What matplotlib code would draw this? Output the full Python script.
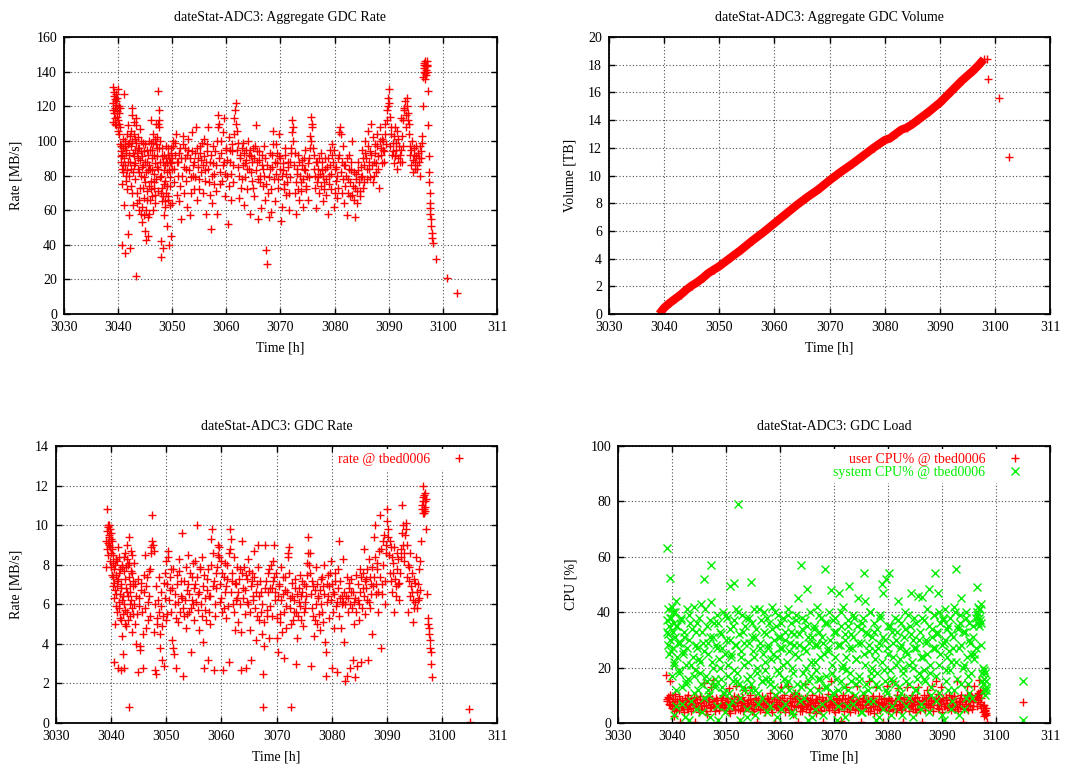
import matplotlib
matplotlib.use("Agg")
import matplotlib.pyplot as plt

plt.rcParams["font.family"] = ["Liberation Serif", "DejaVu Serif"]
plt.rcParams["font.size"] = 10

# shared x axis
x_ticks = [3030, 3040, 3050, 3060, 3070, 3080, 3090, 3100, 3110]
x_ticklabels = ["3030", "3040", "3050", "3060", "3070", "3080", "3090", "3100", "311"]

# --- aggregate GDC rate [MB/s] ---
agg_t = [
    3039.0, 3039.1, 3039.15, 3039.2, 3039.3, 3039.35, 3039.4, 3039.5, 3039.55, 3039.6,
    3039.7, 3039.75, 3039.8, 3039.9, 3040.0, 3040.05, 3040.1, 3040.2, 3040.3, 3040.4,
    3040.45, 3040.5, 3040.6, 3040.65, 3040.7, 3040.8, 3040.9, 3041.0, 3041.05, 3041.1,
    3041.2, 3041.3, 3041.4, 3041.5, 3041.6, 3041.7, 3041.8, 3041.9, 3042.0, 3042.1,
    3042.2, 3042.3, 3042.4, 3042.5, 3042.6, 3042.7, 3042.8, 3042.9, 3043.0, 3043.1,
    3043.2, 3043.3, 3043.4, 3043.5, 3043.6, 3043.7, 3043.8, 3043.9, 3044.0, 3044.1,
    3044.2, 3044.3, 3044.4, 3044.5, 3044.6, 3044.7, 3044.8, 3044.9, 3045.0, 3045.1,
    3045.2, 3045.3, 3045.4, 3045.5, 3045.6, 3045.7, 3045.8, 3045.9, 3046.0, 3046.1,
    3046.2, 3046.3, 3046.4, 3046.5, 3046.6, 3046.7, 3046.8, 3046.9, 3047.0, 3047.1,
    3047.2, 3047.3, 3047.4, 3047.5, 3047.6, 3047.7, 3047.8, 3047.9, 3048.0, 3048.1,
    3048.2, 3048.3, 3048.4, 3048.5, 3048.6, 3048.7, 3048.8, 3048.9, 3049.0, 3049.1,
    3049.2, 3049.3, 3049.4, 3049.5, 3049.6, 3049.7, 3049.8, 3049.9, 3050.0, 3050.1,
    3050.3, 3050.5, 3050.7, 3050.9, 3051.1, 3051.3, 3051.5, 3051.6, 3051.8, 3052.0,
    3052.2, 3052.4, 3052.6, 3052.8, 3053.0, 3053.2, 3053.4, 3053.6, 3053.8, 3054.0,
    3054.2, 3054.4, 3054.6, 3054.8, 3055.0, 3055.2, 3055.4, 3055.6, 3055.8, 3056.0,
    3056.2, 3056.4, 3056.6, 3056.8, 3057.0, 3057.2, 3057.4, 3057.6, 3057.8, 3058.0,
    3058.2, 3058.4, 3058.5, 3058.7, 3058.9, 3059.1, 3059.3, 3059.5, 3059.7, 3059.9,
    3060.1, 3060.3, 3060.5, 3060.7, 3060.9, 3061.1, 3061.3, 3061.5, 3061.6, 3061.8,
    3062.0, 3062.2, 3062.4, 3062.6, 3062.8, 3063.0, 3063.2, 3063.4, 3063.6, 3063.8,
    3064.0, 3064.2, 3064.4, 3064.6, 3064.8, 3065.0, 3065.2, 3065.4, 3065.6, 3065.8,
    3066.0, 3066.2, 3066.4, 3066.6, 3066.8, 3067.0, 3067.2, 3067.4, 3067.6, 3067.8,
    3068.0, 3068.2, 3068.4, 3068.6, 3068.8, 3069.0, 3069.2, 3069.4, 3069.6, 3069.8,
    3070.0, 3070.1, 3070.3, 3070.5, 3070.7, 3070.9, 3071.1, 3071.3, 3071.5, 3071.7,
    3071.9, 3072.1, 3072.2, 3072.3, 3072.5, 3072.7, 3072.9, 3073.1, 3073.3, 3073.5,
    3073.7, 3073.9, 3074.1, 3074.3, 3074.5, 3074.7, 3074.9, 3075.1, 3075.3, 3075.5,
    3075.7, 3075.8, 3076.0, 3076.2, 3076.4, 3076.6, 3076.8, 3077.0, 3077.2, 3077.4,
    3077.6, 3077.8, 3078.0, 3078.2, 3078.4, 3078.6, 3078.8, 3079.0, 3079.2, 3079.4,
    3079.6, 3079.8, 3080.0, 3080.2, 3080.4, 3080.6, 3080.8, 3081.0, 3081.2, 3081.4,
    3081.6, 3081.8, 3082.0, 3082.2, 3082.4, 3082.6, 3082.8, 3083.0, 3083.2, 3083.4,
    3083.6, 3083.8, 3084.0, 3084.2, 3084.4, 3084.6, 3084.8, 3085.0, 3085.2, 3085.4,
    3085.6, 3085.8, 3086.0, 3086.2, 3086.4, 3086.6, 3086.8, 3087.0, 3087.2, 3087.4,
    3087.6, 3087.8, 3088.0, 3088.2, 3088.4, 3088.6, 3088.8, 3089.0, 3089.2, 3089.4,
    3089.6, 3089.8, 3090.0, 3090.1, 3090.2, 3090.4, 3090.6, 3090.8, 3091.0, 3091.2,
    3091.4, 3091.6, 3091.8, 3092.0, 3092.2, 3092.4, 3092.6, 3092.8, 3093.0, 3093.1,
    3093.2, 3093.4, 3093.5, 3093.7, 3093.9, 3094.1, 3094.3, 3094.5, 3094.7, 3094.9,
    3095.1, 3095.3, 3095.5, 3095.7, 3095.9, 3096.1, 3096.2, 3096.3, 3096.4, 3096.5,
    3096.6, 3096.7, 3096.8, 3096.9, 3097.0, 3097.1, 3097.2, 3097.3, 3097.35, 3097.4,
    3097.5, 3097.55, 3097.6, 3097.65, 3097.7, 3097.8, 3097.85, 3097.9, 3098.0, 3098.2,
    3098.7, 3100.7, 3102.6,
    3039.05, 3039.25, 3039.45, 3039.65, 3039.85, 3040.15, 3040.25, 3040.35, 3040.55, 3040.75,
    3040.85, 3040.95, 3041.15, 3041.25, 3041.35, 3041.45, 3041.55, 3041.65, 3041.75, 3041.85,
    3041.95, 3042.05, 3042.15, 3042.25, 3042.35, 3042.45, 3042.55, 3042.65, 3042.75, 3042.85,
    3042.95, 3043.05, 3043.15, 3043.25, 3043.35, 3043.45, 3043.55, 3043.65, 3043.75, 3043.85,
    3043.95, 3044.05, 3044.15, 3044.25, 3044.35, 3044.45, 3044.55, 3044.65, 3044.75, 3044.85,
    3044.95, 3045.05, 3045.15, 3045.25, 3045.35, 3045.45, 3045.55, 3045.65, 3045.75, 3045.85,
    3045.95, 3046.05, 3046.15, 3046.25, 3046.35, 3046.45, 3046.55, 3046.65, 3046.75, 3046.85,
    3046.95, 3047.05, 3047.15, 3047.25, 3047.35, 3047.45, 3047.55, 3047.65, 3047.75, 3047.85,
    3047.95, 3048.05, 3048.15, 3048.25, 3048.35, 3048.45, 3048.55, 3048.65, 3048.75, 3048.85,
    3048.95, 3049.05, 3049.15, 3049.25, 3049.35, 3049.45, 3049.55, 3049.65, 3049.75, 3049.85,
    3050.0, 3050.2, 3050.4, 3050.6, 3050.8, 3051.0, 3051.2, 3051.4, 3051.7, 3051.9,
    3052.1, 3052.3, 3052.5, 3052.7, 3052.9, 3053.1, 3053.3, 3053.5, 3053.7, 3053.9,
    3054.1, 3054.3, 3054.5, 3054.7, 3054.9, 3055.1, 3055.3, 3055.5, 3055.7, 3055.9,
    3056.1, 3056.3, 3056.5, 3056.7, 3056.9, 3057.1, 3057.3, 3057.5, 3057.7, 3057.9,
    3058.1, 3058.3, 3058.6, 3058.8, 3059.0, 3059.2, 3059.4, 3059.6, 3059.8, 3060.0,
    3060.2, 3060.4, 3060.6, 3060.8, 3061.0, 3061.2, 3061.4, 3061.7, 3061.9, 3062.1,
    3062.3, 3062.5, 3062.7, 3062.9, 3063.1, 3063.3, 3063.5, 3063.7, 3063.9, 3064.1,
    3064.3, 3064.5, 3064.7, 3064.9, 3065.1, 3065.3, 3065.5, 3065.7, 3065.9, 3066.1,
    3066.3, 3066.5, 3066.7, 3066.9, 3067.1, 3067.3, 3067.5, 3067.7, 3067.9, 3068.1,
    3068.3, 3068.5, 3068.7, 3068.9, 3069.1, 3069.3, 3069.5, 3069.7, 3069.9, 3070.2,
    3070.4, 3070.6, 3070.8, 3071.0, 3071.2, 3071.4, 3071.6, 3071.8, 3072.0, 3072.4,
    3072.6, 3072.8, 3073.0, 3073.2, 3073.4, 3073.6, 3073.8, 3074.0, 3074.2, 3074.4,
    3074.6, 3074.8, 3075.0, 3075.2, 3075.4, 3075.6, 3075.9, 3076.1, 3076.3, 3076.5,
    3076.7, 3076.9, 3077.1, 3077.3, 3077.5, 3077.7, 3077.9, 3078.1, 3078.3, 3078.5,
    3078.7, 3078.9, 3079.1, 3079.3, 3079.5, 3079.7, 3079.9, 3080.1, 3080.3, 3080.5,
    3080.7, 3080.9, 3081.1, 3081.3, 3081.5, 3081.7, 3081.9, 3082.1, 3082.3, 3082.5,
    3082.7, 3082.9, 3083.1, 3083.3, 3083.5, 3083.7, 3083.9, 3084.1, 3084.3, 3084.5,
    3084.7, 3084.9, 3085.1, 3085.3, 3085.5, 3085.7, 3085.9, 3086.1, 3086.3, 3086.5,
    3086.7, 3086.9, 3087.1, 3087.3, 3087.5, 3087.7, 3087.9, 3088.1, 3088.3, 3088.5,
    3088.7, 3088.9, 3089.1, 3089.3, 3089.5, 3089.7, 3089.9, 3090.3, 3090.5, 3090.7,
    3090.9, 3091.1, 3091.3, 3091.5, 3091.7, 3091.9, 3092.1, 3092.3, 3092.5, 3092.7,
    3092.9, 3093.3, 3093.6, 3093.8, 3094.0, 3094.2, 3094.4, 3094.6, 3094.8, 3095.0,
    3095.2, 3095.4, 3095.6, 3095.8, 3096.0, 3096.45, 3096.55, 3096.65, 3096.75, 3096.85,
    3096.95, 3097.05, 3097.15,
]
agg_rate = [
    111, 131, 122, 116, 128, 124, 119, 113, 127, 121,
    109, 125, 117, 130, 112, 106, 120, 110, 119, 108,
    94, 88, 97, 40, 75, 92, 101, 86, 127, 63,
    97, 35, 80, 93, 104, 72, 46, 88, 57, 99,
    38, 106, 84, 119, 70, 93, 63, 111, 86, 101,
    78, 109, 22, 64, 96, 90, 60, 82, 107, 73,
    58, 94, 85, 53, 99, 67, 79, 48, 88, 60,
    43, 95, 71, 45, 83, 58, 100, 66, 77, 112,
    90, 68, 99, 60, 81, 73, 101, 64, 110, 85,
    96, 71, 129, 118, 108, 100, 79, 33, 42, 91,
    65, 38, 75, 57, 86, 62, 97, 70, 51, 82,
    66, 92, 40, 74, 88, 45, 96, 64, 84, 100,
    76, 92, 104, 69, 88, 65, 96, 55, 80, 103,
    70, 90, 84, 62, 95, 57, 79, 105, 86, 72,
    93, 108, 66, 85, 78, 97, 89, 70, 101, 83,
    58, 94, 108, 76, 88, 49, 64, 97, 81, 71,
    58, 115, 108, 90, 75, 100, 86, 113, 68, 95,
    80, 52, 102, 88, 66, 94, 76, 113, 118, 122,
    106, 85, 67, 92, 78, 99, 63, 87, 95, 72,
    100, 84, 58, 91, 77, 96, 68, 109, 88, 55,
    94, 80, 61, 86, 74, 97, 66, 37, 29, 56,
    84, 59, 92, 106, 78, 65, 98, 87, 73, 104,
    90, 54, 62, 83, 75, 96, 69, 88, 60, 79,
    93, 105, 112, 100, 86, 70, 58, 81, 92, 66,
    76, 89, 62, 84, 95, 72, 80, 66, 90, 103,
    114, 108, 96, 84, 73, 61, 88, 79, 70, 93,
    83, 65, 76, 90, 69, 85, 58, 80, 95, 72,
    98, 62, 84, 77, 67, 90, 105, 108, 82, 70,
    97, 64, 86, 57, 78, 92, 68, 83, 100, 74,
    66, 56, 81, 64, 88, 71, 79, 95, 73, 86,
    100, 90, 78, 106, 84, 94, 110, 76, 88, 98,
    82, 104, 91, 73, 108, 96, 87, 100, 94, 110,
    118, 125, 130, 122, 114, 104, 92, 99, 87, 108,
    95, 84, 101, 92, 113, 88, 97, 119, 123, 115,
    108, 125, 112, 104, 97, 86, 100, 82, 92, 88,
    97, 84, 90, 80, 94, 103, 99, 120, 137, 142,
    145, 139, 144, 141, 146, 143, 129, 109, 91, 82,
    76, 70, 64, 61, 58, 55, 51, 47, 44, 41,
    32, 21, 12,
    118, 126, 110, 123, 114, 116, 104, 98, 91, 84,
    96, 82, 90, 100, 86, 77, 95, 83, 109, 98,
    92, 80, 103, 88, 97, 74, 115, 100, 82, 91,
    104, 95, 87, 113, 99, 70, 93, 84, 102, 66,
    96, 89, 80, 100, 62, 91, 73, 86, 94, 57,
    76, 98, 82, 66, 88, 56, 92, 74, 86, 95,
    84, 99, 72, 95, 83, 104, 76, 92, 87, 69,
    98, 78, 91, 102, 84, 110, 96, 112, 88, 70,
    80, 73, 96, 88, 68, 83, 92, 77, 65, 90,
    74, 87, 96, 68, 83, 90, 63, 79, 87, 93,
    90, 97, 84, 99, 88, 80, 93, 74, 90, 98,
    85, 96, 77, 92, 101, 83, 90, 70, 94, 80,
    88, 79, 96, 90, 72, 93, 82, 99, 86, 91,
    77, 88, 98, 84, 69, 92, 80, 87, 75, 94,
    86, 100, 110, 82, 93, 77, 105, 88, 81, 96,
    89, 74, 95, 81, 98, 86, 104, 110, 95, 99,
    80, 90, 73, 96, 86, 93, 79, 89, 84, 92,
    95, 82, 88, 73, 90, 97, 83, 94, 78, 89,
    76, 92, 84, 80, 90, 75, 86, 70, 79, 93,
    72, 85, 98, 88, 81, 93, 78, 91, 84, 80,
    87, 72, 92, 81, 76, 85, 70, 88, 96, 108,
    93, 76, 84, 72, 88, 80, 71, 86, 78, 90,
    83, 74, 87, 79, 96, 100, 110, 92, 80, 88,
    76, 84, 90, 81, 74, 88, 80, 72, 84, 78,
    90, 75, 86, 81, 92, 88, 95, 70, 85, 80,
    73, 92, 104, 88, 78, 86, 74, 80, 90, 70,
    84, 76, 88, 69, 82, 73, 78, 71, 83, 76,
    68, 85, 80, 90, 76, 93, 84, 97, 88, 79,
    92, 86, 102, 80, 93, 87, 97, 84, 100, 92,
    101, 95, 88, 104, 98, 112, 120, 97, 108, 94,
    103, 91, 99, 106, 90, 97, 88, 95, 103, 112,
    118, 120, 116, 110, 92, 95, 89, 96, 84, 91,
    86, 93, 88, 97, 90, 140, 144, 136, 146, 143,
    138, 144, 140,
]

# --- aggregate GDC volume [TB] ---
vol_t = [3039.1, 3040.0, 3041.0, 3042.0, 3043.0, 3044.0, 3045.0, 3046.0, 3047.0, 3048.0,
         3049.0, 3050.0, 3052.0, 3054.0, 3056.0, 3058.0, 3060.0, 3062.0, 3064.0, 3066.0,
         3068.0, 3070.0, 3072.0, 3074.0, 3076.0, 3078.0, 3080.0, 3081.0, 3082.0, 3083.0,
         3084.0, 3085.0, 3086.0, 3088.0, 3090.0, 3092.0, 3094.0, 3096.0, 3097.0, 3098.0]
vol_tb = [0.0, 0.45, 0.8, 1.1, 1.4, 1.75, 2.05, 2.3, 2.6, 2.95,
          3.2, 3.45, 4.05, 4.65, 5.3, 5.9, 6.55, 7.2, 7.85, 8.45,
          9.0, 9.65, 10.25, 10.8, 11.4, 12.0, 12.55, 12.7, 13.0, 13.3,
          13.45, 13.7, 14.0, 14.6, 15.25, 16.05, 16.85, 17.55, 17.95, 18.4]
vol_late_t = [3098.5, 3098.8, 3100.7, 3102.6]
vol_late_tb = [18.4, 17.0, 15.6, 11.35]

# --- GDC rate @ tbed0006 [MB/s] ---
gdc_t = [
    3039.1, 3039.2, 3039.3, 3039.35, 3039.4, 3039.5, 3039.6, 3039.7, 3039.8, 3039.9,
    3040.0, 3040.1, 3040.2, 3040.3, 3040.4, 3040.5, 3040.6, 3040.7, 3040.8, 3040.9,
    3041.0, 3041.1, 3041.2, 3041.3, 3041.4, 3041.5, 3041.6, 3041.7, 3041.8, 3041.9,
    3042.0, 3042.1, 3042.2, 3042.3, 3042.4, 3042.5, 3042.6, 3042.7, 3042.8, 3042.9,
    3043.0, 3043.1, 3043.2, 3043.3, 3043.4, 3043.5, 3043.6, 3043.7, 3043.8, 3043.9,
    3044.0, 3044.2, 3044.4, 3044.6, 3044.8, 3045.0, 3045.2, 3045.3, 3045.4, 3045.6,
    3045.8, 3046.0, 3046.2, 3046.4, 3046.6, 3046.8, 3047.0, 3047.2, 3047.4, 3047.5,
    3047.6, 3047.8, 3048.0, 3048.1, 3048.2, 3048.4, 3048.6, 3048.8, 3049.0, 3049.2,
    3049.3, 3049.5, 3049.6, 3049.8, 3050.0, 3050.2, 3050.4, 3050.6, 3050.8, 3051.0,
    3051.2, 3051.4, 3051.6, 3051.8, 3052.0, 3052.2, 3052.4, 3052.6, 3052.8, 3053.0,
    3053.1, 3053.3, 3053.5, 3053.7, 3053.9, 3054.1, 3054.3, 3054.5, 3054.7, 3054.9,
    3055.1, 3055.3, 3055.5, 3055.7, 3055.9, 3056.1, 3056.3, 3056.5, 3056.7, 3056.9,
    3057.1, 3057.3, 3057.5, 3057.7, 3057.9, 3058.1, 3058.2, 3058.3, 3058.5, 3058.7,
    3058.9, 3059.1, 3059.3, 3059.5, 3059.7, 3059.9, 3060.1, 3060.3, 3060.5, 3060.7,
    3060.9, 3061.1, 3061.3, 3061.5, 3061.7, 3061.9, 3062.1, 3062.3, 3062.5, 3062.7,
    3062.9, 3063.1, 3063.3, 3063.5, 3063.6, 3063.8, 3064.0, 3064.2, 3064.4, 3064.5,
    3064.7, 3064.9, 3065.1, 3065.3, 3065.5, 3065.7, 3065.9, 3066.1, 3066.3, 3066.5,
    3066.7, 3066.9, 3067.1, 3067.3, 3067.5, 3067.6, 3067.8, 3068.0, 3068.2, 3068.4,
    3068.6, 3068.8, 3069.0, 3069.2, 3069.4, 3069.6, 3069.8, 3070.0, 3070.2, 3070.4,
    3070.6, 3070.8, 3071.0, 3071.2, 3071.4, 3071.6, 3071.8, 3072.0, 3072.2, 3072.4,
    3072.6, 3072.7, 3072.9, 3073.1, 3073.3, 3073.6, 3073.8, 3074.0, 3074.2, 3074.4,
    3074.6, 3074.8, 3075.0, 3075.2, 3075.4, 3075.6, 3075.8, 3076.0, 3076.2, 3076.4,
    3076.6, 3076.8, 3077.0, 3077.2, 3077.4, 3077.6, 3077.8, 3078.0, 3078.2, 3078.4,
    3078.6, 3078.8, 3078.9, 3079.0, 3079.2, 3079.4, 3079.6, 3079.8, 3080.0, 3080.2,
    3080.4, 3080.6, 3080.8, 3080.9, 3081.1, 3081.3, 3081.5, 3081.7, 3081.9, 3082.1,
    3082.3, 3082.4, 3082.6, 3082.8, 3083.0, 3083.2, 3083.4, 3083.6, 3083.8, 3084.0,
    3084.2, 3084.4, 3084.6, 3084.8, 3085.0, 3085.2, 3085.4, 3085.6, 3085.8, 3086.0,
    3086.2, 3086.4, 3086.6, 3086.8, 3087.0, 3087.2, 3087.4, 3087.6, 3087.8, 3088.0,
    3088.2, 3088.4, 3088.6, 3088.8, 3089.0, 3089.2, 3089.4, 3089.6, 3089.8, 3090.0,
    3090.1, 3090.3, 3090.5, 3090.7, 3090.9, 3091.1, 3091.3, 3091.5, 3091.7, 3091.9,
    3092.1, 3092.3, 3092.5, 3092.7, 3092.8, 3093.0, 3093.2, 3093.4, 3093.5, 3093.7,
    3093.9, 3094.1, 3094.3, 3094.5, 3094.7, 3094.9, 3095.1, 3095.3, 3095.5, 3095.7,
    3095.9, 3096.1, 3096.2, 3096.4, 3096.5, 3096.6, 3096.7, 3096.8, 3096.9, 3097.0,
    3097.1, 3097.3, 3097.4, 3097.5, 3097.6, 3097.7, 3097.8, 3097.9, 3098.0, 3098.1,
    3098.2, 3105.0, 3105.1,
    3039.15, 3039.25, 3039.45, 3039.55, 3039.65, 3039.75, 3039.85, 3039.95, 3040.05, 3040.15,
    3040.25, 3040.35, 3040.45, 3040.55, 3040.65, 3040.75, 3040.85, 3040.95, 3041.05, 3041.15,
    3041.25, 3041.35, 3041.45, 3041.55, 3041.65, 3041.75, 3041.85, 3041.95, 3042.05, 3042.15,
    3042.25, 3042.35, 3042.45, 3042.55, 3042.65, 3042.75, 3042.85, 3042.95, 3043.05, 3043.15,
    3043.25, 3043.35, 3043.45, 3043.55, 3043.65, 3043.75, 3043.85, 3043.95, 3044.1, 3044.3,
    3044.5, 3044.7, 3044.9, 3045.1, 3045.5, 3045.7, 3045.9, 3046.1, 3046.3, 3046.5,
    3046.7, 3046.9, 3047.1, 3047.3, 3047.7, 3047.9, 3048.3, 3048.5, 3048.7, 3048.9,
    3049.1, 3049.4, 3049.7, 3049.9, 3050.1, 3050.3, 3050.5, 3050.7, 3050.9, 3051.1,
    3051.3, 3051.5, 3051.7, 3051.9, 3052.1, 3052.3, 3052.5, 3052.7, 3052.9, 3053.2,
    3053.4, 3053.6, 3053.8, 3054.0, 3054.2, 3054.4, 3054.6, 3054.8, 3055.0, 3055.2,
    3055.4, 3055.6, 3055.8, 3056.0, 3056.2, 3056.4, 3056.6, 3056.8, 3057.0, 3057.2,
    3057.4, 3057.6, 3057.8, 3058.0, 3058.4, 3058.6, 3058.8, 3059.0, 3059.2, 3059.4,
    3059.6, 3059.8, 3060.0, 3060.2, 3060.4, 3060.6, 3060.8, 3061.0, 3061.2, 3061.4,
    3061.6, 3061.8, 3062.0, 3062.2, 3062.4, 3062.6, 3062.8, 3063.0, 3063.2, 3063.4,
    3063.7, 3063.9, 3064.1, 3064.3, 3064.6, 3064.8, 3065.0, 3065.2, 3065.4, 3065.6,
    3065.8, 3066.0, 3066.2, 3066.4, 3066.6, 3066.8, 3067.0, 3067.2, 3067.4, 3067.7,
    3067.9, 3068.1, 3068.3, 3068.5, 3068.7, 3068.9, 3069.1, 3069.3, 3069.5, 3069.7,
    3069.9, 3070.1, 3070.3, 3070.5, 3070.7, 3070.9, 3071.1, 3071.3, 3071.5, 3071.7,
    3071.9, 3072.1, 3072.3, 3072.5, 3072.8, 3073.0, 3073.2, 3073.4, 3073.5, 3073.7,
    3073.9, 3074.1, 3074.3, 3074.5, 3074.7, 3074.9, 3075.1, 3075.3, 3075.5, 3075.7,
    3075.9, 3076.1, 3076.3, 3076.5, 3076.7, 3076.9, 3077.1, 3077.3, 3077.5, 3077.7,
    3077.9, 3078.1, 3078.3, 3078.5, 3078.7, 3079.1, 3079.3, 3079.5, 3079.7, 3079.9,
    3080.1, 3080.3, 3080.5, 3080.7, 3081.0, 3081.2, 3081.4, 3081.6, 3081.8, 3082.0,
    3082.2, 3082.5, 3082.7, 3082.9, 3083.1, 3083.3, 3083.5, 3083.7, 3083.9, 3084.1,
    3084.3, 3084.5, 3084.7, 3084.9, 3085.1, 3085.3, 3085.5, 3085.7, 3085.9, 3086.1,
    3086.3, 3086.5, 3086.7, 3086.9, 3087.1, 3087.3, 3087.5, 3087.7, 3087.9, 3088.1,
    3088.3, 3088.5, 3088.7, 3088.9, 3089.1, 3089.3, 3089.5, 3089.7, 3089.9, 3090.2,
    3090.4, 3090.6, 3090.8, 3091.0, 3091.2, 3091.4, 3091.6, 3091.8, 3092.0, 3092.2,
    3092.4, 3092.6, 3092.9, 3093.1, 3093.3, 3093.6, 3093.8, 3094.0, 3094.2, 3094.4,
    3094.6, 3094.8, 3095.0, 3095.2, 3095.4, 3095.6, 3095.8, 3096.0, 3096.45, 3096.55,
    3096.65, 3096.75, 3096.85, 3096.95, 3097.05,
]
gdc_rate = [
    7.9, 9.7, 10.8, 9.1, 8.5, 9.9, 10.0, 9.4, 8.9, 9.6,
    8.6, 7.5, 9.2, 8.1, 6.9, 3.1, 7.8, 5.0, 8.3, 6.5,
    7.2, 5.6, 2.8, 8.9, 6.1, 7.6, 5.3, 6.8, 2.7, 7.9,
    4.4, 3.5, 6.4, 8.4, 2.8, 5.7, 7.3, 4.9, 9.0, 6.6,
    8.0, 5.2, 9.4, 0.8, 7.0, 6.0, 8.7, 4.6, 7.6, 5.5,
    6.9, 8.1, 5.0, 4.0, 2.6, 6.3, 3.7, 3.9, 7.1, 5.6,
    2.8, 6.6, 8.5, 4.8, 6.1, 7.7, 5.4, 8.6, 9.2, 10.5,
    9.0, 4.6, 2.7, 6.9, 2.5, 5.3, 7.4, 3.8, 5.9, 4.9,
    3.2, 7.1, 2.9, 6.3, 8.2, 5.5, 8.7, 6.7, 7.8, 4.2,
    3.8, 3.5, 6.0, 2.8, 7.5, 5.1, 8.3, 6.4, 9.6, 5.8,
    2.4, 7.2, 4.8, 6.7, 8.5, 5.6, 7.6, 3.6, 6.2, 8.1,
    5.2, 7.0, 10.0, 6.5, 4.7, 7.9, 6.0, 8.4, 4.1, 2.8,
    5.7, 7.3, 3.2, 6.4, 5.0, 8.0, 9.3, 9.8, 6.9, 2.7,
    5.4, 7.6, 8.5, 8.9, 6.1, 8.2, 5.6, 2.7, 7.4, 6.6,
    5.3, 8.0, 3.1, 9.8, 9.3, 7.2, 6.0, 8.4, 4.7, 7.0,
    6.3, 5.1, 7.8, 4.6, 2.7, 9.2, 6.8, 5.5, 7.5, 2.8,
    6.1, 8.3, 4.7, 3.2, 7.2, 6.4, 8.7, 5.8, 4.2, 7.0,
    9.0, 5.2, 6.6, 4.5, 2.5, 0.8, 3.9, 9.0, 5.7, 7.6,
    4.3, 6.8, 8.0, 5.4, 7.2, 9.0, 6.2, 4.3, 3.6, 6.9,
    5.5, 7.9, 4.6, 6.5, 3.3, 7.4, 5.9, 8.4, 8.9, 6.3,
    5.0, 0.8, 7.1, 5.6, 6.8, 3.0, 4.3, 6.1, 7.5, 5.2,
    6.6, 4.9, 7.0, 5.8, 6.4, 8.1, 9.4, 8.6, 2.9, 7.2,
    5.4, 4.4, 6.7, 7.9, 5.0, 6.3, 4.7, 7.3, 5.6, 6.9,
    8.0, 4.1, 2.4, 3.6, 6.1, 7.5, 5.3, 8.2, 2.8, 6.6,
    4.8, 7.2, 5.9, 2.6, 7.8, 9.2, 6.3, 4.8, 6.0, 8.3,
    4.1, 2.1, 6.4, 2.4, 5.6, 7.1, 2.8, 6.6, 3.2, 5.0,
    2.3, 7.5, 2.9, 6.2, 5.2, 7.8, 3.1, 6.8, 8.8, 5.5,
    7.3, 6.2, 3.2, 8.3, 5.8, 7.0, 4.5, 9.4, 10.0, 6.5,
    7.8, 5.6, 8.7, 10.5, 3.8, 7.0, 9.2, 6.0, 8.6, 10.2,
    10.8, 9.4, 7.6, 8.9, 6.6, 8.1, 5.6, 7.3, 6.4, 8.6,
    7.0, 6.2, 8.8, 9.6, 11.0, 9.0, 8.2, 10.1, 9.8, 7.4,
    5.6, 7.9, 8.6, 6.6, 5.1, 7.3, 6.1, 8.4, 5.8, 7.0,
    6.3, 8.2, 9.2, 10.8, 12.0, 11.2, 10.6, 11.5, 10.9, 11.6,
    9.8, 6.5, 5.3, 5.0, 4.8, 4.5, 4.2, 3.8, 3.6, 3.0,
    2.3, 0.7, 0.05,
    9.2, 8.8, 10.0, 9.5, 9.0, 9.8, 8.2, 9.3, 7.9, 8.8,
    7.4, 8.5, 6.3, 7.1, 8.0, 6.7, 7.5, 5.9, 8.2, 6.9,
    7.3, 5.8, 8.4, 6.5, 7.8, 5.2, 7.0, 6.2, 8.0, 5.5,
    7.7, 6.0, 8.6, 5.0, 6.8, 7.9, 5.6, 8.3, 6.4, 7.4,
    8.1, 6.6, 5.4, 7.7, 6.2, 8.5, 5.8, 7.2, 6.0, 7.0,
    6.4, 5.5, 7.3, 5.9, 6.7, 4.5, 7.5, 5.8, 6.9, 7.4,
    5.2, 6.4, 7.8, 8.9, 8.7, 6.0, 5.0, 6.2, 5.6, 4.5,
    6.6, 5.4, 7.6, 5.2, 7.0, 8.4, 6.2, 7.4, 5.6, 6.8,
    7.8, 6.5, 5.3, 7.0, 6.1, 7.7, 5.6, 7.2, 6.3, 5.4,
    6.2, 7.9, 5.5, 7.0, 6.5, 5.8, 7.4, 6.0, 6.8, 8.2,
    6.1, 7.4, 5.7, 6.6, 7.8, 5.4, 6.9, 7.5, 6.3, 5.2,
    6.7, 7.8, 5.6, 6.4, 8.6, 7.2, 6.0, 6.8, 7.9, 9.0,
    8.4, 7.0, 6.3, 7.6, 5.8, 8.1, 6.9, 7.3, 5.9, 8.6,
    8.8, 6.6, 7.6, 5.6, 7.1, 6.2, 7.9, 6.6, 7.3, 6.0,
    7.6, 6.3, 7.9, 6.7, 7.3, 6.0, 7.7, 5.6, 6.9, 7.6,
    6.2, 7.4, 6.6, 5.4, 7.9, 6.4, 7.2, 5.6, 6.0, 5.1,
    6.8, 7.2, 5.4, 6.6, 7.8, 5.9, 6.8, 8.2, 7.4, 6.6,
    7.6, 5.3, 6.4, 7.0, 5.1, 6.2, 7.4, 5.6, 6.7, 4.8,
    6.6, 8.6, 7.6, 5.8, 6.4, 5.2, 6.2, 7.3, 5.6, 6.5,
    5.4, 6.8, 5.9, 6.4, 7.2, 5.6, 6.1, 6.9, 7.5, 8.6,
    8.0, 7.6, 6.5, 5.8, 6.9, 5.2, 6.0, 7.0, 6.4, 5.5,
    6.7, 6.0, 7.4, 5.1, 6.5, 7.0, 6.4, 6.9, 7.6, 6.2,
    7.0, 5.6, 6.5, 7.6, 6.1, 6.8, 5.4, 7.2, 6.4, 6.1,
    6.6, 6.0, 7.4, 6.3, 6.8, 6.0, 7.3, 5.8, 6.6, 6.1,
    6.3, 5.6, 7.0, 6.0, 6.6, 7.4, 5.8, 7.6, 6.4, 7.2,
    6.8, 7.8, 6.1, 7.4, 6.5, 7.9, 6.9, 7.4, 8.4, 7.0,
    8.1, 6.6, 7.4, 8.8, 6.5, 8.0, 9.5, 7.2, 9.0, 9.8,
    8.5, 9.2, 7.2, 8.4, 7.6, 8.9, 6.9, 7.8, 8.3, 7.1,
    7.6, 8.4, 10.0, 8.6, 9.5, 9.0, 8.0, 7.2, 6.4, 6.9,
    7.6, 6.2, 5.8, 7.1, 6.6, 6.2, 7.8, 6.7, 11.0, 10.6,
    11.4, 10.8, 11.2, 10.7, 11.3,
]

# --- GDC load @ tbed0006 [%] ---
user_t = [
    3038.9, 3039.0, 3039.2, 3039.4, 3039.6, 3039.7, 3039.9, 3040.1, 3040.3, 3040.4,
    3040.6, 3040.8, 3041.0, 3041.2, 3041.4, 3041.6, 3041.8, 3042.0, 3042.2, 3042.4,
    3042.6, 3042.8, 3043.0, 3043.2, 3043.4, 3043.6, 3043.8, 3044.0, 3044.2, 3044.4,
    3044.6, 3044.8, 3045.0, 3045.2, 3045.4, 3045.6, 3045.8, 3046.0, 3046.2, 3046.4,
    3046.6, 3046.8, 3047.0, 3047.2, 3047.4, 3047.6, 3047.8, 3048.0, 3048.2, 3048.4,
    3048.6, 3048.8, 3049.0, 3049.2, 3049.4, 3049.6, 3049.8, 3050.0, 3050.2, 3050.4,
    3050.6, 3050.8, 3051.0, 3051.2, 3051.4, 3051.6, 3051.8, 3052.0, 3052.2, 3052.4,
    3052.6, 3052.8, 3053.0, 3053.2, 3053.4, 3053.6, 3053.8, 3054.0, 3054.2, 3054.4,
    3054.6, 3054.8, 3055.0, 3055.2, 3055.4, 3055.6, 3055.8, 3056.0, 3056.2, 3056.4,
    3056.6, 3056.8, 3057.0, 3057.2, 3057.4, 3057.6, 3057.8, 3058.0, 3058.2, 3058.4,
    3058.6, 3058.8, 3059.0, 3059.2, 3059.4, 3059.6, 3059.8, 3060.0, 3060.2, 3060.4,
    3060.6, 3060.8, 3061.0, 3061.2, 3061.4, 3061.6, 3061.8, 3062.0, 3062.2, 3062.4,
    3062.6, 3062.8, 3063.0, 3063.2, 3063.4, 3063.6, 3063.8, 3064.0, 3064.2, 3064.4,
    3064.6, 3064.8, 3065.0, 3065.2, 3065.4, 3065.6, 3065.8, 3066.0, 3066.2, 3066.4,
    3066.6, 3066.8, 3067.0, 3067.2, 3067.4, 3067.6, 3067.8, 3068.0, 3068.2, 3068.4,
    3068.6, 3068.8, 3069.0, 3069.2, 3069.4, 3069.6, 3069.8, 3070.0, 3070.2, 3070.4,
    3070.6, 3070.8, 3071.0, 3071.2, 3071.4, 3071.6, 3071.8, 3072.0, 3072.2, 3072.4,
    3072.6, 3072.8, 3073.0, 3073.2, 3073.4, 3073.6, 3073.8, 3074.0, 3074.2, 3074.4,
    3074.6, 3074.8, 3075.0, 3075.2, 3075.4, 3075.6, 3075.8, 3076.0, 3076.2, 3076.4,
    3076.6, 3076.8, 3077.0, 3077.2, 3077.4, 3077.6, 3077.8, 3078.0, 3078.2, 3078.4,
    3078.6, 3078.8, 3079.0, 3079.2, 3079.4, 3079.6, 3079.8, 3080.0, 3080.2, 3080.4,
    3080.6, 3080.8, 3081.0, 3081.2, 3081.4, 3081.6, 3081.8, 3082.0, 3082.2, 3082.4,
    3082.6, 3082.8, 3083.0, 3083.2, 3083.4, 3083.6, 3083.8, 3084.0, 3084.2, 3084.4,
    3084.6, 3084.8, 3085.0, 3085.2, 3085.4, 3085.6, 3085.8, 3086.0, 3086.2, 3086.4,
    3086.6, 3086.8, 3087.0, 3087.2, 3087.4, 3087.6, 3087.8, 3088.0, 3088.2, 3088.4,
    3088.6, 3088.8, 3089.0, 3089.2, 3089.4, 3089.6, 3089.8, 3090.0, 3090.2, 3090.4,
    3090.6, 3090.8, 3091.0, 3091.2, 3091.4, 3091.6, 3091.8, 3092.0, 3092.2, 3092.4,
    3092.6, 3092.8, 3093.0, 3093.2, 3093.4, 3093.6, 3093.8, 3094.0, 3094.2, 3094.4,
    3094.6, 3094.8, 3095.0, 3095.2, 3095.4, 3095.6, 3095.8, 3096.0, 3096.2, 3096.4,
    3096.6, 3096.7, 3096.8, 3096.9, 3097.0, 3097.1, 3097.2, 3097.3, 3097.5, 3097.6,
    3097.7, 3097.8, 3097.9, 3098.0, 3098.1, 3098.2, 3098.4, 3105.0, 3105.0,
    3039.1, 3039.4, 3039.7, 3040.0, 3040.3, 3040.6, 3040.9, 3041.2, 3041.5, 3041.8,
    3042.1, 3042.4, 3042.7, 3043.0, 3043.3, 3043.6, 3043.9, 3044.2, 3044.5, 3044.8,
    3045.1, 3045.4, 3045.7, 3046.0, 3046.3, 3046.6, 3046.9, 3047.2, 3047.5, 3047.8,
    3048.1, 3048.4, 3048.7, 3049.0, 3049.3, 3049.6, 3049.9, 3050.2, 3050.5, 3050.8,
    3051.1, 3051.4, 3051.7, 3052.0, 3052.3, 3052.6, 3052.9, 3053.2, 3053.5, 3053.8,
    3054.1, 3054.4, 3054.7, 3055.0, 3055.3, 3055.6, 3055.9, 3056.2, 3056.5, 3056.8,
    3057.1, 3057.4, 3057.7, 3058.0, 3058.3, 3058.6, 3058.9, 3059.2, 3059.5, 3059.8,
    3060.1, 3060.4, 3060.7, 3061.0, 3061.3, 3061.6, 3061.9, 3062.2, 3062.5, 3062.8,
    3063.1, 3063.4, 3063.7, 3064.0, 3064.3, 3064.6, 3064.9, 3065.2, 3065.5, 3065.8,
    3066.1, 3066.4, 3066.7, 3067.0, 3067.3, 3067.6, 3067.9, 3068.2, 3068.5, 3068.8,
    3069.1, 3069.4, 3069.7, 3070.0, 3070.3, 3070.6, 3070.9, 3071.2, 3071.5, 3071.8,
    3072.1, 3072.4, 3072.7, 3073.0, 3073.3, 3073.6, 3073.9, 3074.2, 3074.5, 3074.8,
    3075.1, 3075.4, 3075.7, 3076.0, 3076.3, 3076.6, 3076.9, 3077.2, 3077.5, 3077.8,
    3078.1, 3078.4, 3078.7, 3079.0, 3079.3, 3079.6, 3079.9, 3080.2, 3080.5, 3080.8,
    3081.1, 3081.4, 3081.7, 3082.0, 3082.3, 3082.6, 3082.9, 3083.2, 3083.5, 3083.8,
    3084.1, 3084.4, 3084.7, 3085.0, 3085.3, 3085.6, 3085.9, 3086.2, 3086.5, 3086.8,
    3087.1, 3087.4, 3087.7, 3088.0, 3088.3, 3088.6, 3088.9, 3089.2, 3089.5, 3089.8,
    3090.1, 3090.4, 3090.7, 3091.0, 3091.3, 3091.6, 3091.9, 3092.2, 3092.5, 3092.8,
    3093.1, 3093.4, 3093.7, 3094.0, 3094.3, 3094.6, 3094.9, 3095.2, 3095.5, 3095.8,
    3096.1, 3096.4, 3096.7, 3097.0, 3097.3, 3097.6, 3097.9, 3098.2,
]
user_cpu = [
    17.5, 8.5, 9.5, 7.0, 15.0, 10.0, 5.5, 8.8, 2.5, 6.2,
    10.5, 4.5, 7.8, 9.6, 0.5, 5.8, 8.2, 6.8, 3.8, 9.2,
    7.4, 5.0, 10.2, 6.4, 8.0, 4.2, 7.0, 9.0, 0.3, 5.6,
    8.6, 6.0, 4.0, 9.8, 7.2, 5.2, 8.4, 14.5, 6.6, 3.4,
    9.4, 7.6, 5.4, 13.0, 8.8, 15.5, 6.0, 4.4, 9.0, 7.0,
    0.4, 5.8, 8.2, 6.4, 10.0, 4.6, 7.4, 5.6, 9.2, 6.8,
    12.5, 3.6, 8.0, 6.2, 9.8, 4.8, 13.5, 7.2, 5.0, 8.8,
    0.5, 6.6, 9.4, 4.4, 7.8, 12.0, 5.6, 8.4, 6.0, 10.0,
    13.0, 4.2, 7.4, 5.2, 9.0, 6.4, 0.3, 8.2, 4.8, 7.0,
    9.6, 5.8, 8.0, 3.8, 6.6, 9.2, 5.0, 7.8, 11.0, 6.2,
    4.0, 8.6, 0.5, 6.8, 9.4, 5.4, 7.6, 4.6, 13.0, 8.4,
    6.0, 10.2, 3.8, 7.2, 13.5, 5.2, 9.0, 6.6, 8.0, 3.2,
    10.5, 11.0, 5.8, 7.8, 0.5, 9.6, 6.2, 4.4, 8.6, 6.8,
    14.0, 5.0, 9.2, 7.0, 4.0, 8.2, 6.0, 10.0, 5.4, 7.6,
    3.6, 8.8, 6.4, 12.5, 4.8, 7.2, 9.4, 0.4, 5.6, 8.0,
    6.2, 10.4, 4.6, 7.4, 15.0, 5.8, 8.6, 6.6, 3.8, 9.8,
    7.0, 5.0, 8.4, 0.6, 6.4, 10.0, 4.4, 7.6, 13.0, 5.6,
    9.0, 6.8, 4.0, 8.2, 6.0, 9.6, 5.2, 7.4, 13.5, 4.6,
    8.8, 6.4, 0.5, 7.8, 5.4, 10.2, 6.6, 8.4, 4.2, 15.0,
    7.0, 5.8, 9.2, 6.2, 3.6, 8.0, 13.0, 5.0, 7.6, 9.8,
    4.8, 6.8, 0.4, 8.6, 5.6, 7.2, 13.5, 4.4, 9.0, 6.0,
    8.2, 15.0, 5.2, 7.8, 3.8, 10.0, 12.5, 6.4, 8.8, 4.6,
    7.0, 0.5, 9.4, 5.8, 7.6, 13.0, 4.2, 8.4, 6.2, 10.2,
    5.0, 7.4, 9.0, 3.8, 6.8, 13.0, 8.0, 5.4, 0.4, 7.8,
    10.0, 4.8, 8.6, 12.0, 6.4, 9.2, 5.6, 7.2, 13.5, 4.4,
    8.2, 15.0, 6.6, 10.4, 5.2, 7.8, 13.0, 4.0, 9.0, 0.5,
    6.0, 8.4, 5.6, 10.0, 7.2, 4.6, 8.8, 6.4, 9.6, 5.0,
    7.6, 15.0, 4.2, 8.0, 6.2, 10.2, 0.4, 5.4, 9.2, 7.0,
    13.5, 4.8, 8.4, 6.6, 10.0, 5.2, 7.6, 13.5, 9.4, 6.0,
    11.0, 8.2, 15.5, 10.4, 7.0, 11.5, 9.0, 5.5, 12.0, 3.8,
    6.5, 2.5, 4.8, 3.2, 5.5, 2.8, 0.3, 7.5, 0.1,
    8.0, 9.2, 6.5, 7.4, 5.2, 8.6, 6.8, 4.6, 7.9, 6.1,
    5.8, 7.6, 9.0, 4.9, 6.6, 8.3, 5.4, 7.1, 9.4, 6.3,
    7.5, 5.0, 8.8, 6.2, 4.4, 7.8, 9.6, 5.7, 6.9, 8.1,
    6.0, 8.4, 4.8, 7.2, 9.1, 5.5, 6.7, 8.9, 4.3, 7.0,
    8.7, 6.4, 5.1, 7.7, 9.3, 4.7, 6.5, 8.0, 5.9, 7.3,
    5.3, 8.5, 6.9, 4.5, 7.6, 9.0, 6.1, 5.0, 8.2, 7.1,
    7.9, 5.6, 8.8, 6.3, 4.9, 7.4, 9.5, 5.8, 6.6, 8.3,
    6.2, 9.1, 7.0, 5.4, 8.0, 4.6, 7.7, 9.8, 6.0, 8.6,
    8.9, 6.6, 4.2, 7.3, 5.7, 9.2, 6.4, 8.1, 5.1, 7.5,
    7.2, 5.3, 8.7, 6.0, 9.4, 4.4, 7.9, 6.5, 8.4, 5.6,
    5.9, 8.2, 6.8, 4.6, 7.5, 9.0, 5.2, 7.1, 8.8, 6.2,
    8.5, 6.1, 5.0, 7.8, 9.3, 6.6, 4.8, 8.0, 7.0, 5.4,
    6.4, 8.9, 7.4, 5.5, 8.2, 4.3, 7.1, 9.6, 6.0, 7.7,
    7.3, 5.2, 8.6, 6.5, 9.0, 5.7, 7.9, 4.6, 8.3, 6.8,
    6.1, 8.0, 5.5, 9.2, 7.0, 4.9, 8.7, 6.3, 7.6, 5.8,
    8.8, 6.6, 7.5, 5.1, 9.4, 6.9, 4.7, 8.2, 7.3, 5.9,
    7.0, 9.5, 5.6, 8.1, 6.4, 7.8, 9.1, 5.3, 8.5, 6.7,
    8.2, 6.0, 9.3, 7.1, 5.5, 8.7, 6.6, 9.8, 7.4, 5.8,
    6.8, 9.0, 7.6, 5.2, 8.4, 10.1, 6.3, 7.9, 9.5, 6.1,
    8.6, 10.2, 9.3, 7.5, 10.8, 6.0, 4.5, 3.6,
]
sys_t = [
    3039.0, 3039.0, 3039.1, 3039.2, 3039.3, 3039.4, 3039.5, 3039.6, 3039.7, 3039.8,
    3039.9, 3040.0, 3040.1, 3040.2, 3040.3, 3040.4, 3040.5, 3040.6, 3040.7, 3040.8,
    3040.9, 3041.0, 3041.2, 3041.4, 3041.6, 3041.8, 3042.0, 3042.2, 3042.4, 3042.6,
    3042.8, 3043.0, 3043.2, 3043.4, 3043.6, 3043.8, 3044.0, 3044.2, 3044.4, 3044.6,
    3044.8, 3045.0, 3045.2, 3045.4, 3045.6, 3045.8, 3046.0, 3046.2, 3046.4, 3046.6,
    3046.8, 3047.0, 3047.2, 3047.3, 3047.5, 3047.7, 3047.9, 3048.1, 3048.3, 3048.5,
    3048.7, 3048.9, 3049.1, 3049.3, 3049.5, 3049.7, 3049.9, 3050.1, 3050.3, 3050.5,
    3050.7, 3050.8, 3051.0, 3051.2, 3051.4, 3051.5, 3051.7, 3051.9, 3052.1, 3052.2,
    3052.4, 3052.6, 3052.8, 3053.0, 3053.2, 3053.4, 3053.6, 3053.8, 3054.0, 3054.2,
    3054.4, 3054.6, 3054.8, 3055.0, 3055.2, 3055.4, 3055.6, 3055.8, 3056.0, 3056.2,
    3056.4, 3056.6, 3056.8, 3057.0, 3057.2, 3057.4, 3057.6, 3057.8, 3058.0, 3058.2,
    3058.4, 3058.6, 3058.8, 3059.0, 3059.2, 3059.4, 3059.6, 3059.8, 3060.0, 3060.2,
    3060.4, 3060.6, 3060.8, 3061.0, 3061.2, 3061.4, 3061.6, 3061.8, 3062.0, 3062.2,
    3062.4, 3062.6, 3062.8, 3063.0, 3063.2, 3063.3, 3063.5, 3063.8, 3064.0, 3064.2,
    3064.4, 3064.6, 3064.8, 3065.0, 3065.2, 3065.4, 3065.6, 3065.8, 3066.0, 3066.2,
    3066.4, 3066.6, 3066.8, 3067.0, 3067.2, 3067.4, 3067.6, 3067.8, 3068.0, 3068.3,
    3068.5, 3068.7, 3068.9, 3069.1, 3069.4, 3069.6, 3069.8, 3070.0, 3070.2, 3070.4,
    3070.6, 3070.8, 3071.0, 3071.2, 3071.4, 3071.6, 3071.8, 3072.0, 3072.2, 3072.4,
    3072.6, 3072.8, 3073.0, 3073.2, 3073.4, 3073.6, 3073.8, 3074.0, 3074.2, 3074.5,
    3074.7, 3074.9, 3075.1, 3075.3, 3075.5, 3075.7, 3075.8, 3076.0, 3076.2, 3076.4,
    3076.6, 3076.8, 3077.0, 3077.2, 3077.4, 3077.6, 3077.8, 3078.0, 3078.2, 3078.4,
    3078.6, 3078.8, 3079.0, 3079.2, 3079.4, 3079.6, 3079.8, 3080.0, 3080.2, 3080.4,
    3080.6, 3080.8, 3081.0, 3081.2, 3081.4, 3081.6, 3081.8, 3082.0, 3082.2, 3082.4,
    3082.6, 3082.8, 3083.0, 3083.2, 3083.4, 3083.6, 3083.8, 3084.0, 3084.2, 3084.4,
    3084.6, 3084.8, 3085.0, 3085.2, 3085.5, 3085.7, 3085.9, 3086.1, 3086.3, 3086.5,
    3086.7, 3086.9, 3087.1, 3087.3, 3087.5, 3087.7, 3087.9, 3088.1, 3088.3, 3088.5,
    3088.7, 3088.9, 3089.1, 3089.3, 3089.5, 3089.7, 3089.9, 3090.1, 3090.3, 3090.5,
    3090.7, 3090.9, 3091.1, 3091.3, 3091.5, 3091.7, 3091.9, 3092.1, 3092.3, 3092.6,
    3092.8, 3093.0, 3093.2, 3093.4, 3093.6, 3093.8, 3094.0, 3094.2, 3094.4, 3094.6,
    3094.8, 3095.0, 3095.2, 3095.4, 3095.6, 3095.8, 3096.0, 3096.2, 3096.4, 3096.5,
    3096.6, 3096.7, 3096.8, 3096.9, 3097.0, 3097.1, 3097.2, 3097.3, 3097.4, 3097.5,
    3097.6, 3097.7, 3097.8, 3097.9, 3098.0, 3098.1, 3098.2, 3105.0, 3105.0,
    3039.25, 3039.55, 3039.85, 3040.15, 3040.45, 3040.75, 3041.05, 3041.35, 3041.65, 3041.95,
    3042.25, 3042.55, 3042.85, 3043.15, 3043.45, 3043.75, 3044.05, 3044.35, 3044.65, 3044.95,
    3045.25, 3045.55, 3045.85, 3046.15, 3046.45, 3046.75, 3047.05, 3047.35, 3047.65, 3047.95,
    3048.25, 3048.55, 3048.85, 3049.15, 3049.45, 3049.75, 3050.05, 3050.35, 3050.65, 3050.95,
    3051.25, 3051.55, 3051.85, 3052.15, 3052.45, 3052.75, 3053.05, 3053.35, 3053.65, 3053.95,
    3054.25, 3054.55, 3054.85, 3055.15, 3055.45, 3055.75, 3056.05, 3056.35, 3056.65, 3056.95,
    3057.25, 3057.55, 3057.85, 3058.15, 3058.45, 3058.75, 3059.05, 3059.35, 3059.65, 3059.95,
    3060.25, 3060.55, 3060.85, 3061.15, 3061.45, 3061.75, 3062.05, 3062.35, 3062.65, 3062.95,
    3063.25, 3063.55, 3063.85, 3064.15, 3064.45, 3064.75, 3065.05, 3065.35, 3065.65, 3065.95,
    3066.25, 3066.55, 3066.85, 3067.15, 3067.45, 3067.75, 3068.05, 3068.35, 3068.65, 3068.95,
    3069.25, 3069.55, 3069.85, 3070.15, 3070.45, 3070.75, 3071.05, 3071.35, 3071.65, 3071.95,
    3072.25, 3072.55, 3072.85, 3073.15, 3073.45, 3073.75, 3074.05, 3074.35, 3074.65, 3074.95,
    3075.25, 3075.55, 3075.85, 3076.15, 3076.45, 3076.75, 3077.05, 3077.35, 3077.65, 3077.95,
    3078.25, 3078.55, 3078.85, 3079.15, 3079.45, 3079.75, 3080.05, 3080.35, 3080.65, 3080.95,
    3081.25, 3081.55, 3081.85, 3082.15, 3082.45, 3082.75, 3083.05, 3083.35, 3083.65, 3083.95,
    3084.25, 3084.55, 3084.85, 3085.15, 3085.45, 3085.75, 3086.05, 3086.35, 3086.65, 3086.95,
    3087.25, 3087.55, 3087.85, 3088.15, 3088.45, 3088.75, 3089.05, 3089.35, 3089.65, 3089.95,
    3090.25, 3090.55, 3090.85, 3091.15, 3091.45, 3091.75, 3092.05, 3092.35, 3092.65, 3092.95,
    3093.25, 3093.55, 3093.85, 3094.15, 3094.45, 3094.75, 3095.05, 3095.35, 3095.65, 3095.95,
    3096.25, 3096.55, 3096.85, 3097.15, 3097.45, 3097.75, 3098.05,
    3040.35, 3041.9, 3043.1, 3044.5, 3045.9, 3047.1, 3048.4, 3049.8, 3051.1, 3052.5,
    3053.9, 3055.3, 3056.7, 3058.1, 3059.5, 3060.9, 3062.3, 3063.7, 3065.1, 3066.5,
    3067.9, 3069.3, 3070.7, 3072.1, 3073.5, 3074.9, 3076.3, 3077.7, 3079.1, 3080.5,
    3081.9, 3083.3, 3084.7, 3086.1, 3087.5, 3088.9, 3090.3, 3091.7, 3093.1, 3094.5,
    3040.8, 3042.6, 3044.0, 3045.3, 3046.6, 3048.0, 3049.3, 3050.6, 3052.0, 3053.3,
    3054.6, 3056.0, 3057.4, 3058.8, 3060.1, 3061.5, 3062.9, 3064.2, 3065.6, 3067.0,
    3068.4, 3069.8, 3071.2, 3072.6, 3074.0, 3075.4, 3076.8, 3078.2, 3079.6, 3081.0,
    3082.4, 3083.8, 3085.2, 3086.6, 3088.0, 3089.4, 3090.8, 3092.2, 3093.6, 3095.0,
]
sys_cpu = [
    63, 33, 37, 28, 41, 35, 25, 30, 52.5, 38,
    17, 42, 33, 27, 36, 21, 40, 31, 6, 44,
    24, 35, 18, 29, 38, 13, 26, 33, 2, 21,
    41, 16, 30, 36, 8, 24, 42, 19, 33, 27,
    12, 38, 22, 43, 4, 29, 52, 17, 35, 25,
    10, 31, 43.5, 57, 20, 36, 14, 28, 39, 1,
    23, 33, 16, 27, 40, 11, 30, 38, 21, 6,
    34, 49.5, 25, 15, 37, 50.5, 28, 41, 18, 79,
    32, 9, 24, 39, 13, 29, 35, 2, 22, 38,
    17, 51, 31, 26, 41, 12, 34, 20, 7, 29,
    37, 15, 25, 40, 19, 32, 4, 27, 36, 14,
    23, 42, 30, 10, 35, 24, 39, 18, 31, 5,
    27, 38, 16, 33, 22, 41, 12, 29, 36, 20,
    3, 32, 25, 39, 14, 45, 28, 57, 34, 18,
    9, 37, 26, 48.5, 31, 15, 40, 22, 2, 35,
    28, 19, 42, 12, 33, 24, 38, 7, 29, 55.5,
    17, 36, 26, 40, 48, 21, 11, 33, 38, 16,
    1, 28, 47, 35, 20, 42, 13, 30, 24, 6,
    37, 49.5, 18, 32, 27, 39, 10, 23, 35, 45,
    15, 29, 4, 38, 54, 21, 44, 33, 12, 26,
    40, 18, 31, 8, 36, 23, 14, 34, 27, 2,
    39, 50, 47, 19, 30, 52, 11, 25, 54, 35,
    16, 6, 29, 38, 21, 33, 44, 13, 27, 36,
    3, 20, 31, 40, 15, 25, 9, 35, 47, 22,
    30, 38, 12, 27, 46, 18, 33, 5, 45.5, 24,
    37, 15, 30, 41, 48.5, 21, 10, 34, 27, 39,
    54, 17, 32, 47, 40, 25, 3, 37, 29, 41,
    19, 34, 12, 26, 38, 22, 8, 31, 42, 55.5,
    16, 35, 27, 39, 45, 20, 5, 33, 40, 24,
    14, 36, 29, 18, 9, 31, 25, 38, 49, 40,
    36, 42, 38, 35, 41, 37, 43, 28, 18, 14,
    20, 12, 16, 10, 18, 13, 15, 15, 1.2,
    32, 38, 26, 40, 22, 35, 29, 19, 37, 25,
    31, 14, 27, 39, 21, 34, 17, 28, 36, 23,
    18, 33, 26, 41, 15, 29, 37, 22, 31, 13,
    27, 36, 20, 32, 11, 25, 39, 17, 30, 24,
    35, 19, 28, 40, 14, 26, 33, 21, 38, 16,
    29, 12, 36, 24, 31, 18, 41, 27, 15, 33,
    22, 38, 28, 16, 34, 25, 40, 19, 31, 27,
    36, 21, 30, 14, 39, 26, 33, 18, 28, 37,
    24, 32, 13, 38, 27, 20, 35, 29, 17, 31,
    34, 22, 28, 39, 16, 31, 25, 36, 13, 27,
    30, 18, 37, 24, 33, 12, 28, 40, 21, 32,
    19, 35, 27, 15, 31, 38, 23, 29, 17, 34,
    36, 25, 14, 32, 28, 40, 20, 33, 26, 18,
    29, 38, 22, 31, 15, 27, 35, 19, 33, 24,
    14, 30, 37, 23, 28, 18, 34, 26, 39, 21,
    32, 20, 27, 36, 16, 30, 24, 38, 19, 29,
    25, 35, 18, 31, 39, 27, 33, 21, 36, 28,
    38, 30, 24, 35, 19, 32, 27, 40, 22, 34,
    36, 28, 33, 21, 38, 17, 30, 25, 35, 23,
    27, 39, 41, 36, 15, 19, 12,
    3, 7, 1, 5, 9, 2, 6, 4, 8, 1,
    5, 3, 9, 6, 2, 7, 4, 8, 1, 5,
    3, 9, 6, 2, 7, 4, 8, 1, 5, 3,
    9, 6, 2, 7, 4, 8, 1, 5, 3, 9,
    12, 15, 11, 14, 12, 16, 13, 11, 15, 12,
    14, 11, 16, 13, 12, 15, 11, 14, 12, 16,
    13, 11, 15, 12, 14, 11, 16, 13, 12, 15,
    11, 14, 12, 16, 13, 11, 15, 12, 14, 11,
]

RED = "#ff0000"
GREEN = "#00ee00"

fig = plt.figure(figsize=(10.73, 7.68), dpi=100)
ax1 = fig.add_axes([0.0596, 0.5911, 0.4036, 0.3607])
ax2 = fig.add_axes([0.5676, 0.5911, 0.4110, 0.3607])
ax3 = fig.add_axes([0.0522, 0.0586, 0.4110, 0.3607])
ax4 = fig.add_axes([0.5760, 0.0586, 0.4026, 0.3607])


def style(ax, title, ylabel, ymax, ystep, ylab_x):
    ax.set_xlim(3030, 3110)
    ax.set_xticks(x_ticks)
    ax.set_xticklabels(x_ticklabels)
    ax.set_ylim(0, ymax)
    ax.set_yticks(list(range(0, ymax + 1, ystep)))
    ax.grid(True, color="0.3", linestyle=(0, (1, 2)), linewidth=0.8)
    ax.set_axisbelow(True)
    ax.tick_params(direction="in", top=True, right=True, length=4, width=1,
                   labelsize=10, pad=5)
    for s in ax.spines.values():
        s.set_linewidth(1.3)
    ax.text(0.5, 1.07, title, transform=ax.transAxes, ha="center", va="center",
            fontsize=10)
    ax.set_xlabel("Time [h]", fontsize=10)
    ax.xaxis.set_label_coords(0.5, -0.10)
    ax.set_ylabel(ylabel, fontsize=10)
    ax.yaxis.set_label_coords(ylab_x, 0.5)


mk = dict(linestyle="none", markersize=6, markeredgewidth=1.0)

ax1.plot(agg_t, agg_rate, marker="+", color=RED, **mk)
style(ax1, "dateStat-ADC3: Aggregate GDC Rate", "Rate [MB/s]", 160, 20, -0.095)

ax2.plot(vol_t, vol_tb, color=RED, linewidth=6, solid_capstyle="butt")
ax2.plot(vol_t, vol_tb, marker="+", color=RED, **mk)
ax2.plot(vol_late_t, vol_late_tb, marker="+", color=RED, **mk)
style(ax2, "dateStat-ADC3: Aggregate GDC Volume", "Volume [TB]", 20, 2, -0.073)

ax3.plot(gdc_t, gdc_rate, marker="+", color=RED, label="rate @ tbed0006", **mk)
style(ax3, "dateStat-ADC3: GDC Rate", "Rate [MB/s]", 14, 2, -0.075)
leg = ax3.legend(loc="upper right", bbox_to_anchor=(0.948, 0.99), borderaxespad=0,
                 borderpad=0.3, markerfirst=False, handlelength=1.5,
                 handletextpad=1.4, labelcolor="linecolor", fontsize=10,
                 frameon=True, fancybox=False, framealpha=1)
leg.get_frame().set_edgecolor("none")

ax4.plot(user_t, user_cpu, marker="+", color=RED, label="user CPU% @ tbed0006", **mk)
ax4.plot(sys_t, sys_cpu, marker="x", color=GREEN, label="system CPU% @ tbed0006",
         linestyle="none", markersize=5.5, markeredgewidth=1.0)
style(ax4, "dateStat-ADC3: GDC Load", "CPU [%]", 100, 20, -0.095)
leg = ax4.legend(loc="upper right", bbox_to_anchor=(0.953, 0.99), borderaxespad=0,
                 borderpad=0.3, markerfirst=False, handlelength=1.5,
                 handletextpad=1.4, labelcolor="linecolor", fontsize=10,
                 labelspacing=0.0, frameon=True, fancybox=False, framealpha=1)
leg.get_frame().set_edgecolor("none")

fig.savefig("out.png", dpi=100)
